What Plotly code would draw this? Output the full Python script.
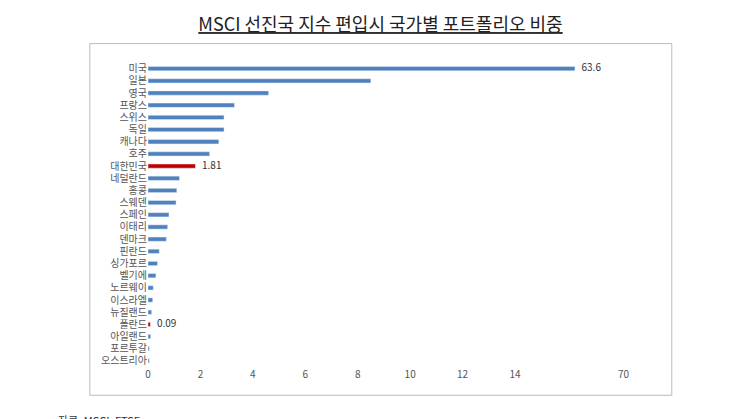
import plotly.graph_objects as go

countries = ["미국","일본","영국","프랑스","스위스","독일","캐나다","호주","대한민국","네덜란드","홍콩","스웨덴","스페인","이태리","덴마크","핀란드","싱가포르","벨기에","노르웨이","이스라엘","뉴질랜드","폴란드","아일랜드","포르투갈","오스트리아"]
values = [63.6,8.5,4.6,3.3,2.9,2.9,2.7,2.35,1.81,1.2,1.1,1.07,0.8,0.75,0.7,0.43,0.36,0.3,0.2,0.18,0.14,0.09,0.1,0.05,0.05]
labeled = ["미국","대한민국","폴란드"]
tick_vals = [0,2,4,6,8,10,12,14]

def disp(v):
    return v if v <= 16 else 16 + (v - 16) * 0.006

xs = [disp(v) for v in values]
colors = ["#C00000" if c in ("대한민국","폴란드") else "#4F81BD" for c in countries]
lab_x = [disp(values[countries.index(c)]) + 0.25 for c in labeled]
lab_t = [str(values[countries.index(c)]) for c in labeled]

fig = go.Figure()
fig.add_trace(go.Bar(y=countries, x=xs, orientation="h", marker_color=colors, width=0.35))
fig.add_trace(go.Scatter(y=labeled, x=lab_x, mode="text", text=lab_t, textposition="middle right",
                         textfont=dict(size=10, color="#333"), cliponaxis=False))
fig.update_layout(
    width=745, height=419, paper_bgcolor="white", plot_bgcolor="white",
    margin=dict(l=140, r=120, t=45, b=60),
    font=dict(family="Noto Sans CJK KR", size=10, color="#555"),
    title=dict(text="<u>MSCI 선진국 지수 편입시 국가별 포트폴리오 비중</u>", x=0.5, y=0.975,
               font=dict(size=18, color="#222")),
    showlegend=False,
    shapes=[dict(type="rect", xref="paper", yref="paper", x0=-0.12, x1=1.08, y0=-0.09, y1=1.03,
                 line=dict(color="#bbb", width=1))],
    annotations=[dict(text="자료: MSCI, FTSE", xref="paper", yref="paper", x=-0.19, y=-0.2,
                      showarrow=False, xanchor="left", font=dict(size=11, color="#333"))],
)
fig.update_xaxes(range=[0, 18.5], tickvals=tick_vals + [18.14],
                 ticktext=[str(t) for t in tick_vals] + ["70"], showgrid=False,
                 zeroline=False, tickfont=dict(size=10))
fig.update_yaxes(autorange="reversed", showgrid=False, ticks="", tickmode="array",
                 tickvals=countries, tickfont=dict(size=10))
fig.write_html("out.html")
